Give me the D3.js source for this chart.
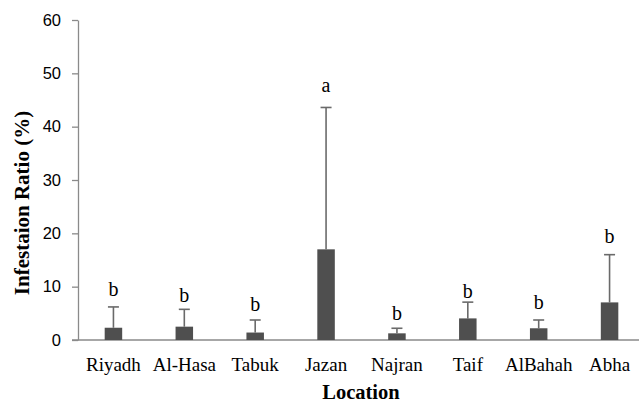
<!DOCTYPE html>
<html>
<head>
<meta charset="utf-8">
<script src="https://cdn.jsdelivr.net/npm/d3@7"></script>
<style>
  body { margin: 0; background: #fff; }
  svg { display: block; }
</style>
</head>
<body>
<script>
// chart data
var locations = ["Riyadh", "Al-Hasa", "Tabuk", "Jazan", "Najran", "Taif", "AlBahah", "Abha"];
var means = [2.3, 2.5, 1.4, 17.0, 1.25, 4.05, 2.2, 7.05];
var errTops = [6.2, 5.75, 3.75, 43.6, 2.2, 7.1, 3.75, 16.0];
var letters = ["b", "b", "b", "a", "b", "b", "b", "b"];
var letterAt = [8.3, 7.2, 5.5, 46.5, 3.75, 7.8, 5.9, 18.2];
var yTicks = [0, 10, 20, 30, 40, 50, 60];

var width = 639, height = 405;

var svg = d3.select("body")
  .append("svg")
  .attr("width", width)
  .attr("height", height);

// scales
var x = d3.scaleBand()
  .domain(locations)
  .range([78, 645]);

var y = d3.scaleLinear()
  .domain([0, 60])
  .range([340, 20]);

var axisColor = "#8a8a8a";

// y axis
var yAxis = svg.append("g")
  .attr("transform", "translate(78,0)")
  .call(d3.axisLeft(y).tickValues(yTicks).tickSize(6).tickSizeOuter(0).tickPadding(11));
yAxis.select(".domain").attr("stroke", axisColor).attr("stroke-width", 1.3);
yAxis.selectAll(".tick line").attr("stroke", axisColor).attr("stroke-width", 1.3);
yAxis.selectAll(".tick text")
  .attr("fill", "#000")
  .style("font-family", "'Liberation Sans', Arial, sans-serif")
  .style("font-size", "16.5px");

// x axis line
svg.append("line")
  .attr("x1", 72).attr("x2", width)
  .attr("y1", y(0)).attr("y2", y(0))
  .attr("stroke", axisColor)
  .attr("stroke-width", 1.5);

var barW = 17.5;
var cx = function(d) { return x(d) + x.bandwidth() / 2; };

// error bars (upper only)
var eb = svg.selectAll(".err")
  .data(locations)
  .enter().append("g")
  .attr("class", "err");

eb.append("line")
  .attr("x1", function(d) { return cx(d); })
  .attr("x2", function(d) { return cx(d); })
  .attr("y1", function(d, i) { return y(means[i]); })
  .attr("y2", function(d, i) { return y(errTops[i]); })
  .attr("stroke", "#6a6a6a")
  .attr("stroke-width", 1.6);

eb.append("line")
  .attr("x1", function(d) { return cx(d) - 5.5; })
  .attr("x2", function(d) { return cx(d) + 5.5; })
  .attr("y1", function(d, i) { return y(errTops[i]); })
  .attr("y2", function(d, i) { return y(errTops[i]); })
  .attr("stroke", "#6a6a6a")
  .attr("stroke-width", 1.6);

// bars
svg.selectAll(".bar")
  .data(locations)
  .enter().append("rect")
  .attr("class", "bar")
  .attr("x", function(d) { return cx(d) - barW / 2; })
  .attr("width", barW)
  .attr("y", function(d, i) { return y(means[i]); })
  .attr("height", function(d, i) { return y(0) - y(means[i]); })
  .attr("fill", "#4f4f4f");

// significance letters
svg.selectAll(".letter")
  .data(locations)
  .enter().append("text")
  .attr("class", "letter")
  .attr("x", function(d) { return cx(d); })
  .attr("y", function(d, i) { return y(letterAt[i]); })
  .attr("text-anchor", "middle")
  .style("font-family", "'Liberation Serif', 'Times New Roman', serif")
  .style("font-size", "20px")
  .text(function(d, i) { return letters[i]; });

// category labels
svg.selectAll(".cat")
  .data(locations)
  .enter().append("text")
  .attr("class", "cat")
  .attr("x", function(d) { return cx(d); })
  .attr("y", 371)
  .attr("text-anchor", "middle")
  .style("font-family", "'Liberation Serif', 'Times New Roman', serif")
  .style("font-size", "19px")
  .text(function(d) { return d; });

// axis titles
svg.append("text")
  .attr("x", 361)
  .attr("y", 399)
  .attr("text-anchor", "middle")
  .style("font-family", "'Liberation Serif', 'Times New Roman', serif")
  .style("font-size", "20.5px")
  .style("font-weight", "bold")
  .text("Location");

svg.append("text")
  .attr("transform", "translate(29,203) rotate(-90)")
  .attr("text-anchor", "middle")
  .style("font-family", "'Liberation Serif', 'Times New Roman', serif")
  .style("font-size", "21px")
  .style("font-weight", "bold")
  .text("Infestaion Ratio (%)");
</script>
</body>
</html>
